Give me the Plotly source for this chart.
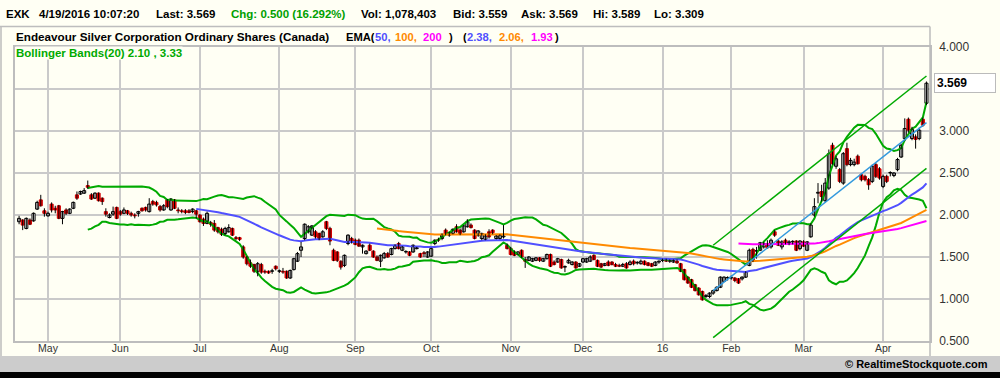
import plotly.graph_objects as go
import pandas as pd

# ---------------- data (daily OHLC, 2015-04-21 .. 2016-04-19) ----------------
opens = (
    [1.92, 1.94, 1.84, 1.94, 1.93, 2.07, 2.18, 2.05]  # Apr
    + [1.99, 2.13, 2.08, 2.11, 1.96, 2.06, 2.02, 2.08, 2.24, 2.25, 2.26, 2.35, 2.24, 2.20, 2.26, 2.20, 2.04, 1.97, 2.01, 2.09]  # May
    + [2.04, 2.02, 2.05, 2.02, 2.00, 2.02, 2.08, 2.09, 2.04, 2.16, 2.15, 2.10, 2.06, 2.18, 2.06, 2.18, 2.06, 2.05, 2.05, 2.05, 2.04, 2.05]  # Jun
    + [2.00, 1.95, 1.90, 1.91, 1.90, 1.85, 1.83, 1.78, 1.80, 1.84, 1.73, 1.73, 1.62, 1.50, 1.43, 1.41, 1.33, 1.41, 1.33, 1.33, 1.33, 1.39]  # Jul
    + [1.33, 1.33, 1.33, 1.25, 1.35, 1.45, 1.58, 1.72, 1.80, 1.76, 1.80, 1.78, 1.74, 1.92, 1.84, 1.58, 1.56, 1.45, 1.40, 1.66, 1.72]  # Aug
    + [1.70, 1.70, 1.62, 1.54, 1.64, 1.57, 1.50, 1.45, 1.49, 1.54, 1.53, 1.60, 1.66, 1.58, 1.56, 1.56, 1.56, 1.60, 1.54, 1.55, 1.50]  # Sep
    + [1.51, 1.66, 1.71, 1.72, 1.82, 1.76, 1.78, 1.86, 1.82, 1.80, 1.86, 1.88, 1.82, 1.76, 1.72, 1.71, 1.80, 1.82, 1.72, 1.72, 1.74, 1.64]  # Oct
    + [1.60, 1.56, 1.53, 1.58, 1.47, 1.46, 1.45, 1.46, 1.49, 1.45, 1.48, 1.53, 1.44, 1.44, 1.47, 1.38, 1.43, 1.41, 1.44, 1.39]  # Nov
    + [1.44, 1.44, 1.45, 1.52, 1.46, 1.42, 1.40, 1.44, 1.44, 1.41, 1.40, 1.39, 1.42, 1.41, 1.45, 1.43, 1.42, 1.45, 1.43, 1.42, 1.40, 1.44]  # Dec
    + [1.46, 1.46, 1.45, 1.44, 1.45, 1.42, 1.35, 1.26, 1.23, 1.17, 1.13, 1.09, 1.03, 1.03, 1.07, 1.10, 1.14, 1.21, 1.25]  # Jan
    + [1.25, 1.25, 1.24, 1.24, 1.26, 1.40, 1.59, 1.57, 1.58, 1.62, 1.66, 1.62, 1.80, 1.69, 1.62, 1.70, 1.67, 1.68, 1.69, 1.60]  # Feb
    + [1.68, 1.58, 1.74, 2.00, 2.26, 2.28, 2.17, 2.32, 2.83, 2.58, 2.54, 2.38, 2.79, 2.60, 2.60, 2.70, 2.48, 2.46, 2.42, 2.40, 2.60, 2.55]  # Mar
    + [2.34, 2.46, 2.50, 2.47, 2.54, 2.69, 2.91, 3.14, 2.91, 2.93, 2.91, 3.14, 3.33]  # Apr
)
highs = (
    [1.99, 1.95, 1.97, 1.96, 2.03, 2.17, 2.24, 2.08]
    + [2.04, 2.15, 2.11, 2.12, 2.05, 2.08, 2.08, 2.16, 2.28, 2.29, 2.32, 2.41, 2.26, 2.27, 2.27, 2.21, 2.08, 2.02, 2.10, 2.10]
    + [2.06, 2.09, 2.06, 2.04, 2.02, 2.05, 2.09, 2.10, 2.20, 2.18, 2.17, 2.12, 2.13, 2.19, 2.20, 2.19, 2.09, 2.07, 2.07, 2.07, 2.08, 2.06]
    + [2.01, 1.97, 2.04, 1.93, 1.94, 1.86, 1.85, 1.86, 1.89, 1.85, 1.75, 1.74, 1.64, 1.51, 1.47, 1.42, 1.44, 1.43, 1.35, 1.34, 1.36, 1.40]
    + [1.35, 1.37, 1.34, 1.35, 1.49, 1.56, 1.68, 1.90, 1.88, 1.88, 1.82, 1.79, 1.82, 1.93, 1.86, 1.60, 1.57, 1.46, 1.53, 1.77, 1.74]
    + [1.72, 1.72, 1.65, 1.58, 1.66, 1.58, 1.52, 1.53, 1.56, 1.56, 1.61, 1.65, 1.68, 1.63, 1.58, 1.57, 1.65, 1.62, 1.55, 1.57, 1.57]
    + [1.61, 1.71, 1.73, 1.78, 1.84, 1.80, 1.84, 1.89, 1.84, 1.88, 1.95, 1.90, 1.83, 1.82, 1.79, 1.77, 1.83, 1.83, 1.76, 1.77, 1.88, 1.66]
    + [1.62, 1.58, 1.57, 1.59, 1.50, 1.51, 1.49, 1.50, 1.50, 1.49, 1.54, 1.54, 1.46, 1.49, 1.48, 1.40, 1.48, 1.45, 1.45, 1.43]
    + [1.49, 1.49, 1.52, 1.53, 1.47, 1.43, 1.43, 1.46, 1.45, 1.43, 1.42, 1.43, 1.44, 1.46, 1.47, 1.45, 1.47, 1.46, 1.44, 1.43, 1.45, 1.46]
    + [1.48, 1.48, 1.47, 1.47, 1.47, 1.43, 1.36, 1.27, 1.24, 1.18, 1.14, 1.10, 1.06, 1.08, 1.11, 1.15, 1.27, 1.27, 1.27]
    + [1.28, 1.26, 1.25, 1.27, 1.33, 1.60, 1.61, 1.62, 1.68, 1.68, 1.70, 1.72, 1.82, 1.71, 1.70, 1.72, 1.70, 1.70, 1.70, 1.70]
    + [1.70, 1.69, 1.90, 2.20, 2.38, 2.36, 2.44, 2.78, 2.86, 2.70, 2.56, 2.75, 2.86, 2.68, 2.67, 2.72, 2.50, 2.48, 2.44, 2.60, 2.62, 2.57]
    + [2.48, 2.48, 2.52, 2.51, 2.68, 2.85, 3.15, 3.16, 3.05, 2.96, 3.04, 3.16, 3.589]
)
lows = (
    [1.89, 1.82, 1.83, 1.88, 1.92, 2.06, 2.10, 1.98]
    + [1.98, 2.03, 2.02, 1.95, 1.89, 2.00, 2.01, 2.07, 2.18, 2.24, 2.25, 2.31, 2.18, 2.19, 2.16, 2.12, 1.98, 1.96, 1.99, 1.95]
    + [1.99, 2.01, 2.00, 1.98, 1.96, 1.98, 2.04, 2.04, 2.03, 2.11, 2.10, 2.04, 2.05, 2.08, 2.05, 2.07, 2.02, 2.02, 2.01, 2.02, 2.02, 1.96]
    + [1.91, 1.87, 1.89, 1.86, 1.80, 1.78, 1.75, 1.76, 1.79, 1.75, 1.70, 1.69, 1.48, 1.40, 1.37, 1.31, 1.27, 1.30, 1.30, 1.30, 1.30, 1.34]
    + [1.31, 1.30, 1.24, 1.24, 1.34, 1.44, 1.50, 1.70, 1.78, 1.75, 1.72, 1.70, 1.73, 1.82, 1.64, 1.45, 1.44, 1.35, 1.38, 1.64, 1.66]
    + [1.64, 1.62, 1.54, 1.53, 1.57, 1.49, 1.45, 1.38, 1.48, 1.49, 1.52, 1.59, 1.59, 1.57, 1.54, 1.51, 1.55, 1.59, 1.49, 1.50, 1.49]
    + [1.50, 1.64, 1.68, 1.70, 1.76, 1.74, 1.77, 1.79, 1.76, 1.79, 1.85, 1.84, 1.71, 1.74, 1.70, 1.70, 1.72, 1.77, 1.71, 1.71, 1.72, 1.59]
    + [1.52, 1.51, 1.52, 1.49, 1.37, 1.45, 1.44, 1.45, 1.44, 1.44, 1.47, 1.38, 1.40, 1.43, 1.36, 1.32, 1.42, 1.40, 1.36, 1.38]
    + [1.43, 1.43, 1.44, 1.46, 1.38, 1.37, 1.39, 1.39, 1.40, 1.38, 1.38, 1.38, 1.36, 1.40, 1.40, 1.41, 1.41, 1.40, 1.39, 1.38, 1.39, 1.42]
    + [1.44, 1.44, 1.43, 1.43, 1.42, 1.32, 1.22, 1.18, 1.13, 1.09, 1.04, 0.98, 1.01, 1.01, 1.05, 1.09, 1.13, 1.20, 1.22]
    + [1.23, 1.20, 1.18, 1.22, 1.25, 1.39, 1.44, 1.48, 1.57, 1.60, 1.60, 1.60, 1.74, 1.63, 1.59, 1.65, 1.64, 1.65, 1.57, 1.58]
    + [1.62, 1.57, 1.73, 1.98, 2.14, 2.16, 2.15, 2.30, 2.60, 2.55, 2.38, 2.36, 2.58, 2.58, 2.58, 2.60, 2.40, 2.40, 2.30, 2.38, 2.44, 2.42]
    + [2.32, 2.38, 2.46, 2.45, 2.52, 2.68, 2.88, 2.98, 2.89, 2.79, 2.89, 3.05, 3.309]
)
closes = (
    [1.96, 1.88, 1.96, 1.89, 2.02, 2.15, 2.11, 2.02]
    + [2.02, 2.06, 2.06, 1.96, 2.04, 2.02, 2.07, 2.15, 2.20, 2.28, 2.29, 2.33, 2.19, 2.26, 2.17, 2.16, 2.01, 2.00, 2.04, 1.96]
    + [2.01, 2.06, 2.02, 2.00, 1.99, 2.04, 2.05, 2.06, 2.13, 2.13, 2.12, 2.06, 2.11, 2.10, 2.19, 2.08, 2.05, 2.04, 2.03, 2.03, 2.07, 2.01]
    + [1.92, 1.90, 2.02, 1.89, 1.82, 1.80, 1.77, 1.84, 1.85, 1.76, 1.72, 1.71, 1.50, 1.42, 1.39, 1.33, 1.42, 1.32, 1.32, 1.31, 1.33, 1.36]
    + [1.33, 1.32, 1.25, 1.34, 1.48, 1.54, 1.62, 1.89, 1.86, 1.87, 1.74, 1.72, 1.80, 1.84, 1.69, 1.46, 1.46, 1.38, 1.52, 1.76, 1.68]
    + [1.65, 1.63, 1.64, 1.57, 1.58, 1.50, 1.46, 1.52, 1.54, 1.50, 1.60, 1.64, 1.60, 1.62, 1.56, 1.52, 1.64, 1.61, 1.50, 1.54, 1.56]
    + [1.60, 1.70, 1.70, 1.77, 1.77, 1.79, 1.83, 1.80, 1.77, 1.87, 1.92, 1.85, 1.72, 1.81, 1.78, 1.75, 1.74, 1.79, 1.75, 1.76, 1.75, 1.60]
    + [1.53, 1.52, 1.56, 1.50, 1.45, 1.50, 1.48, 1.49, 1.46, 1.48, 1.53, 1.39, 1.41, 1.48, 1.37, 1.38, 1.46, 1.44, 1.37, 1.42]
    + [1.48, 1.48, 1.50, 1.47, 1.39, 1.38, 1.42, 1.40, 1.41, 1.39, 1.39, 1.41, 1.37, 1.44, 1.42, 1.43, 1.45, 1.41, 1.40, 1.39, 1.44, 1.45]
    + [1.46, 1.45, 1.45, 1.46, 1.43, 1.33, 1.23, 1.19, 1.14, 1.10, 1.05, 0.99, 1.04, 1.07, 1.10, 1.14, 1.26, 1.26, 1.25]
    + [1.26, 1.22, 1.19, 1.26, 1.32, 1.58, 1.46, 1.57, 1.67, 1.66, 1.61, 1.70, 1.76, 1.64, 1.68, 1.66, 1.68, 1.68, 1.58, 1.69]
    + [1.63, 1.68, 1.88, 2.10, 2.27, 2.22, 2.38, 2.73, 2.61, 2.67, 2.40, 2.73, 2.60, 2.65, 2.63, 2.61, 2.42, 2.42, 2.36, 2.58, 2.46, 2.44]
    + [2.46, 2.40, 2.50, 2.50, 2.66, 2.83, 3.03, 3.01, 3.02, 2.90, 3.01, 3.069, 3.569]
)

month_start_idx = [8, 28, 50, 72, 93, 114, 136, 156, 178, 197, 217, 239]
month_labels = ["May", "Jun", "Jul", "Aug", "Sep", "Oct", "Nov", "Dec", "16", "Feb", "Mar", "Apr"]

# trend channel (start bar, end bar) and its values
trend_idx = [192, 251]
trend_mid = [1.10, 3.10]
trend_upper = [1.64, 3.655]
trend_lower = [0.54, 2.556]

ema_periods = [50, 100, 200]
ema_colors = ["#5050FF", "#FF8A00", "#FF00FF"]
bb_period = 20

y_ticks = [0.5, 1.0, 1.5, 2.0, 2.5, 3.0, 3.5, 4.0]
y_hidden = [3.5]  # label hidden under the last-price box

assert len(opens) == len(highs) == len(lows) == len(closes), (len(opens), len(highs), len(lows), len(closes))

# ---------------- derived indicators ----------------
N = len(closes)
idx = list(range(N))
cs = pd.Series(closes, dtype=float)


def ema(series, n):
    out = [None] * len(series)
    k = 2.0 / (n + 1)
    val = float(series[:n].mean())
    out[n - 1] = val
    for i in range(n, len(series)):
        val = series[i] * k + val * (1 - k)
        out[i] = val
    return out


mid = cs.rolling(bb_period).mean()
sd = cs.rolling(bb_period).std(ddof=0)
bb_up = (mid + 2 * sd).tolist()
bb_lo = (mid - 2 * sd).tolist()

BG = "#FFFFF4"
GRID = "#CACACA"
GREEN = "#00AA00"

fig = go.Figure()

# Bollinger bands
fig.add_trace(go.Scatter(x=idx, y=bb_up, mode="lines", line=dict(color=GREEN, width=2), hoverinfo="skip"))
fig.add_trace(go.Scatter(x=idx, y=bb_lo, mode="lines", line=dict(color=GREEN, width=2), hoverinfo="skip"))

# EMAs
for p, col in zip(ema_periods, ema_colors):
    fig.add_trace(go.Scatter(x=idx, y=ema(cs, p), mode="lines", line=dict(color=col, width=2), hoverinfo="skip"))

# wicks
wx, wy = [], []
for i in idx:
    wx += [i, i, None]
    wy += [lows[i], highs[i], None]
fig.add_trace(go.Scatter(x=wx, y=wy, mode="lines", line=dict(color="black", width=1), hoverinfo="skip"))

# bodies
body_base = [min(o, c) for o, c in zip(opens, closes)]
body_h = [max(abs(c - o), 0.006) for o, c in zip(opens, closes)]
up = [c >= o for o, c in zip(opens, closes)]
fig.add_trace(go.Bar(
    x=idx, y=body_h, base=body_base, width=0.85,
    marker=dict(color=["white" if u else "#F00000" for u in up],
                line=dict(color=["black" if u else "#D00000" for u in up], width=1)),
    hoverinfo="skip",
))

# trend channel
fig.add_trace(go.Scatter(x=trend_idx, y=trend_upper, mode="lines", line=dict(color=GREEN, width=1.5), hoverinfo="skip"))
fig.add_trace(go.Scatter(x=trend_idx, y=trend_lower, mode="lines", line=dict(color=GREEN, width=1.5), hoverinfo="skip"))
fig.add_trace(go.Scatter(x=trend_idx, y=trend_mid, mode="lines", line=dict(color="#3399DD", width=1.5), hoverinfo="skip"))

# ---------------- layout ----------------
L, R, T, B = 15, 70, 47, 37
PW, PH = 1000 - L - R, 378 - T - B


def px(x):
    return (x - L) / PW


def py(y):
    return (378 - B - y) / PH


HFONT = "Liberation Sans, Arial, sans-serif"
anns = []


def head(x, y, text, color="black", size=11.5):
    anns.append(dict(x=px(x), y=py(y), xref="paper", yref="paper", xanchor="left", yanchor="middle",
                     text="<b>" + text + "</b>", showarrow=False, bgcolor=BG,
                     font=dict(family=HFONT, size=size, color=color), borderpad=0))


head(5, 14, "EXK")
head(38, 14, "4/19/2016 10:07:20")
head(155, 14, "Last: 3.569")
head(230, 14, "Chg: 0.500 (16.292%)", color="#00A000")
head(360, 14, "Vol: 1,078,403")
head(452, 14, "Bid: 3.559")
head(520, 14, "Ask: 3.569")
head(592, 14, "Hi: 3.589")
head(653, 14, "Lo: 3.309")

head(15, 37, "Endeavour Silver Corporation Ordinary Shares (Canada)", size=11.7)
head(345, 37, "EMA(", size=11.2)
head(374, 37, "50,", color=ema_colors[0], size=11.2)
head(394, 37, "100,", color=ema_colors[1], size=11.2)
head(422, 37, "200", color=ema_colors[2], size=11.2)
head(448, 37, ")", size=11.2)
head(462, 37, "(", size=11.2)
head(466, 37, "2.38,", color=ema_colors[0], size=11.2)
head(498, 37, "2.06,", color=ema_colors[1], size=11.2)
head(530, 37, "1.93", color=ema_colors[2], size=11.2)
head(554, 37, ")", size=11.2)

head(15, 53, "Bollinger Bands(20) 2.10 , 3.33", color=GREEN, size=11.5)

# last price box
anns.append(dict(x=px(934), y=closes[-1], xref="paper", yref="y", xanchor="left", yanchor="middle",
                 text="<b>%.3f</b>" % closes[-1], showarrow=False, align="left", width=56,
                 bgcolor="#FFFFFF", bordercolor="#BBBBBB", borderwidth=1, borderpad=2,
                 font=dict(family=HFONT, size=12, color="black")))

# watermark
anns.append(dict(x=px(990), y=py(364), xref="paper", yref="paper", xanchor="right", yanchor="middle",
                 text="<b>© RealtimeStockquote.com</b>", showarrow=False,
                 font=dict(family="Liberation Sans Narrow, Arial Narrow, Liberation Sans, Arial", size=11, color="black")))

shapes = [
    # footer grey band
    dict(type="rect", xref="paper", yref="paper", x0=px(-2), x1=px(1002), y0=py(372), y1=py(356),
         fillcolor="#CCCCCC", line=dict(width=0), layer="below"),
    # black bottom strip
    dict(type="rect", xref="paper", yref="paper", x0=px(-2), x1=px(1002), y0=py(380), y1=py(372),
         fillcolor="#000000", line=dict(width=0), layer="below"),
    # panel border
    dict(type="line", xref="paper", yref="paper", x0=px(0), x1=px(930), y0=py(26.5), y1=py(26.5),
         line=dict(color="#BDBDBD", width=1.5)),
    dict(type="line", xref="paper", yref="paper", x0=px(930), x1=px(930), y0=py(26.5), y1=py(356),
         line=dict(color="#BDBDBD", width=1.5)),
    dict(type="line", xref="paper", yref="paper", x0=px(1), x1=px(1), y0=py(26.5), y1=py(356),
         line=dict(color="#BDBDBD", width=1.5)),
]

fig.update_layout(
    template="none",
    width=1000, height=378,
    margin=dict(l=L, r=R, t=T, b=B, pad=0),
    paper_bgcolor=BG, plot_bgcolor=BG,
    showlegend=False, barmode="overlay", hovermode=False,
    annotations=anns, shapes=shapes,
    xaxis=dict(range=[-1.13, 251.98], tickmode="array", tickvals=month_start_idx, ticktext=month_labels,
               showgrid=True, gridcolor=GRID, gridwidth=1.5, zeroline=False,
               showline=True, mirror=True, linecolor="#BDBDBD", linewidth=1.5,
               ticks="", ticklabelstandoff=-3, automargin=False,
               tickfont=dict(family="Liberation Sans Narrow, Arial Narrow, Liberation Sans, Arial", size=10.5, color="#333333")),
    yaxis=dict(range=[0.5, 4.0], side="right", tickmode="array", tickvals=y_ticks,
               ticktext=["" if v in y_hidden else "%.3f" % v for v in y_ticks],
               showgrid=True, gridcolor=GRID, gridwidth=1.5, zeroline=False,
               showline=True, mirror=True, linecolor="#BDBDBD", linewidth=1.5,
               ticks="", ticklabelstandoff=5, automargin=False,
               tickfont=dict(family="Liberation Sans, Arial", size=12, color="#333333")),
)

fig.write_html("out.html")
